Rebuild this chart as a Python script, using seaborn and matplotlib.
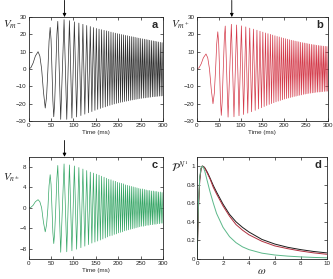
import numpy as np
import matplotlib
matplotlib.use('Agg')
import matplotlib.pyplot as plt
import seaborn as sns

# ---- data ----
# slow start of the chirp (ms)
early_t = [0, 5, 10, 15, 21, 25, 29, 33, 37, 40, 43, 45.5, 48, 50, 52, 54, 56, 58, 60.5, 63, 65]
early_a = [0, 0.8, 3.5, 7.5, 10, 7.5, 0, -13, -22.5, -16, 0, 16, 24, 17, 0, -18, -27.5, -20, 0, 20, 27.5]
early_b = [0, 0.7, 3.0, 6.5, 8.7, 6.5, 0, -11.5, -20, -14, 0, 14.5, 21.5, 15, 0, -17.5, -26.7, -19, 0, 18, 24.8]
early_c = [0, 0.1, 0.5, 1.2, 1.6, 1.2, 0, -2.8, -4.7, -3.3, 0, 4.3, 6.5, 4.6, 0, -4.8, -7.0, -5, 0, 5.8, 8.3]

# later peaks and troughs (ms)
peak_t = [79, 91, 102, 112, 121, 129.5, 137.5, 144.5, 151, 157, 162.7, 168.2, 173.5, 178.6,
          183.6, 188.5, 193.3, 198, 202.6, 207.1, 211.6, 216, 220.4, 224.7, 229, 233.2, 237.4,
          241.6, 245.7, 249.8, 253.9, 258, 262, 266, 270, 274, 278, 281.9, 285.8, 289.7, 293.6, 297.5]
trough_t = [71.5, 85, 96.5, 107, 116.5, 125.3, 133.5, 141, 147.8, 154, 159.9, 165.5, 170.9, 176.1,
            181.1, 186.1, 190.9, 195.7, 200.3, 204.9, 209.4, 213.8, 218.2, 222.6, 226.9, 231.1,
            235.3, 239.5, 243.7, 247.8, 251.9, 256, 260, 264, 268, 272, 276, 279.9, 283.9, 287.8,
            291.7, 295.6, 299.5]

peak_a = [28.5, 27.9, 27.2, 26.5, 25.8, 25.1, 24.5, 23.9, 23.4, 23.0, 22.7, 22.3, 22.0, 21.7, 21.3,
          21.0, 20.7, 20.4, 20.2, 19.9, 19.7, 19.4, 19.2, 18.9, 18.7, 18.5, 18.3, 18.0, 17.8, 17.6,
          17.4, 17.2, 17.0, 16.8, 16.6, 16.4, 16.2, 16.0, 15.8, 15.6, 15.4, 15.2]
trough_a = [-29.0, -29.0, -28.3, -27.6, -26.8, -26.0, -25.2, -24.5, -23.8, -23.2, -22.7, -22.2, -21.8,
            -21.3, -20.9, -20.5, -20.1, -19.8, -19.5, -19.2, -19.0, -18.7, -18.5, -18.3, -18.0, -17.8,
            -17.6, -17.4, -17.2, -17.0, -16.9, -16.7, -16.6, -16.4, -16.3, -16.2, -16.0, -15.9, -15.8,
            -15.7, -15.6, -15.5, -15.4]

peak_b = [25.8, 25.4, 24.9, 24.3, 23.6, 23.0, 22.4, 21.8, 21.3, 20.8, 20.4, 20.0, 19.6, 19.2, 18.8,
          18.5, 18.1, 17.8, 17.5, 17.2, 16.9, 16.6, 16.4, 16.1, 15.9, 15.7, 15.4, 15.2, 15.0, 14.8,
          14.6, 14.4, 14.2, 14.0, 13.9, 13.7, 13.6, 13.4, 13.3, 13.2, 13.1, 13.0]
trough_b = [-27.7, -27.5, -26.9, -26.2, -25.4, -24.6, -23.8, -23.0, -22.3, -21.6, -21.0, -20.4, -19.9,
            -19.4, -18.9, -18.5, -18.1, -17.7, -17.3, -17.0, -16.7, -16.4, -16.1, -15.8, -15.6, -15.3,
            -15.1, -14.9, -14.6, -14.4, -14.2, -14.0, -13.9, -13.7, -13.6, -13.4, -13.3, -13.2, -13.1,
            -13.0, -12.9, -12.8, -12.7]

peak_c = [8.6, 8.4, 8.2, 7.9, 7.6, 7.3, 7.0, 6.8, 6.6, 6.4, 6.2, 6.0, 5.8, 5.6, 5.5, 5.3, 5.2, 5.0,
          4.9, 4.8, 4.7, 4.5, 4.4, 4.3, 4.2, 4.1, 4.0, 3.9, 3.8, 3.7, 3.7, 3.6, 3.5, 3.4, 3.4, 3.3,
          3.3, 3.2, 3.2, 3.1, 3.1, 3.0]
trough_c = [-8.7, -8.6, -8.4, -8.1, -7.8, -7.5, -7.2, -6.9, -6.7, -6.5, -6.3, -6.1, -5.9, -5.7, -5.5,
            -5.4, -5.2, -5.1, -4.9, -4.8, -4.7, -4.5, -4.4, -4.3, -4.2, -4.1, -4.0, -3.9, -3.8, -3.7,
            -3.6, -3.6, -3.5, -3.4, -3.4, -3.3, -3.3, -3.2, -3.2, -3.1, -3.1, -3.0, -3.0]

# panel d spectra
omega = [0, 0.05, 0.1, 0.2, 0.3, 0.4, 0.5, 0.6, 0.8, 1.0, 1.25, 1.5, 2.0, 2.5, 3.0, 3.5, 4.0,
         5.0, 6.0, 7.0, 8.0, 9.0, 10.0]
p_black = [0, 0.30, 0.55, 0.85, 0.97, 1.0, 0.995, 0.98, 0.93, 0.87, 0.79, 0.72, 0.59, 0.48, 0.40,
           0.34, 0.29, 0.21, 0.16, 0.125, 0.10, 0.08, 0.065]
p_red = [0, 0.30, 0.55, 0.85, 0.97, 1.0, 0.99, 0.975, 0.92, 0.86, 0.77, 0.70, 0.57, 0.46, 0.37,
         0.31, 0.26, 0.19, 0.14, 0.11, 0.085, 0.065, 0.05]
p_green = [0, 0.33, 0.6, 0.88, 0.98, 1.0, 0.98, 0.94, 0.83, 0.72, 0.60, 0.49, 0.34, 0.24, 0.175,
           0.13, 0.10, 0.062, 0.042, 0.03, 0.022, 0.016, 0.012]

sns.set_style('ticks')
plt.rcParams['font.family'] = ['Liberation Sans', 'DejaVu Sans']
plt.rcParams['mathtext.fontset'] = 'stix'


def wave(early, peaks, troughs):
    t = np.array(early_t + peak_t + trough_t)
    v = np.array(early + peaks + troughs)
    order = np.argsort(t)
    return t[order], v[order]


def style(ax):
    ax.tick_params(direction='in', length=2, width=0.5, labelsize=4.5, pad=1.5,
                   top=True, right=True, colors='#222222')
    for s in ax.spines.values():
        s.set_linewidth(0.6)


fig = plt.figure(figsize=(3.33, 2.79), dpi=100)
ax_a = fig.add_axes([0.086, 0.566, 0.404, 0.373])
ax_b = fig.add_axes([0.591, 0.566, 0.394, 0.373])
ax_c = fig.add_axes([0.086, 0.072, 0.404, 0.366])
ax_d = fig.add_axes([0.592, 0.072, 0.389, 0.366])

panels = [(ax_a, early_a, peak_a, trough_a, '#303030', (-30, 30), range(-30, 31, 10), 'a'),
          (ax_b, early_b, peak_b, trough_b, '#d43a4a', (-30, 30), range(-30, 31, 10), 'b'),
          (ax_c, early_c, peak_c, trough_c, '#36a666', (-10, 10), [-8, -4, 0, 4, 8], 'c')]

for ax, early, pk, tr, col, ylim, yt, letter in panels:
    t, v = wave(early, pk, tr)
    sns.lineplot(x=t, y=v, ax=ax, color=col, linewidth=0.5, sort=False, estimator=None)
    ax.set_xlim(0, 300)
    ax.set_ylim(*ylim)
    ax.set_xticks(range(0, 301, 50))
    ax.set_yticks(list(yt))
    ax.set_xlabel('Time (ms)', fontsize=4.5, labelpad=1.5)
    ax.set_ylabel('')
    style(ax)
    ax.text(0.96, 0.92, letter, transform=ax.transAxes, ha='right', va='center',
            fontsize=8, fontweight='bold')
    ax.annotate('', xy=(80, 1.0), xycoords=('data', 'axes fraction'),
                xytext=(80, 1.16), textcoords=('data', 'axes fraction'),
                arrowprops=dict(arrowstyle='-|>', lw=0.6, color='k', mutation_scale=5,
                                shrinkA=0, shrinkB=0))

sns.lineplot(x=omega, y=p_black, ax=ax_d, color='#1a1a1a', linewidth=0.7)
sns.lineplot(x=omega, y=p_red, ax=ax_d, color='#b0303f', linewidth=0.7)
sns.lineplot(x=omega, y=p_green, ax=ax_d, color='#5cb88a', linewidth=0.7)
ax_d.set_xlim(0, 10)
ax_d.set_ylim(0, 1.1)
ax_d.set_xticks(range(0, 11, 2))
ax_d.set_yticks([0, 0.2, 0.4, 0.6, 0.8, 1.0])
ax_d.set_yticklabels(['0', '0.2', '0.4', '0.6', '0.8', '1'])
ax_d.set_xlabel(r'$\omega$', fontsize=8, labelpad=0)
ax_d.set_ylabel('')
style(ax_d)
ax_d.text(0.96, 0.92, 'd', transform=ax_d.transAxes, ha='right', va='center',
          fontsize=8, fontweight='bold')

fig.text(0.008, 1 - 25 / 279, r'$V_{m^-}$', fontsize=8, va='center')
fig.text(0.515, 1 - 25 / 279, r'$V_{m^+}$', fontsize=8, va='center')
fig.text(0.008, 1 - 178 / 279, r'$V_{n^\pm}$', fontsize=8, va='center')
fig.text(0.515, 1 - 167 / 279, r'$\mathcal{P}^{N^1}$', fontsize=8, va='center')

fig.savefig('out.png', dpi=100)
